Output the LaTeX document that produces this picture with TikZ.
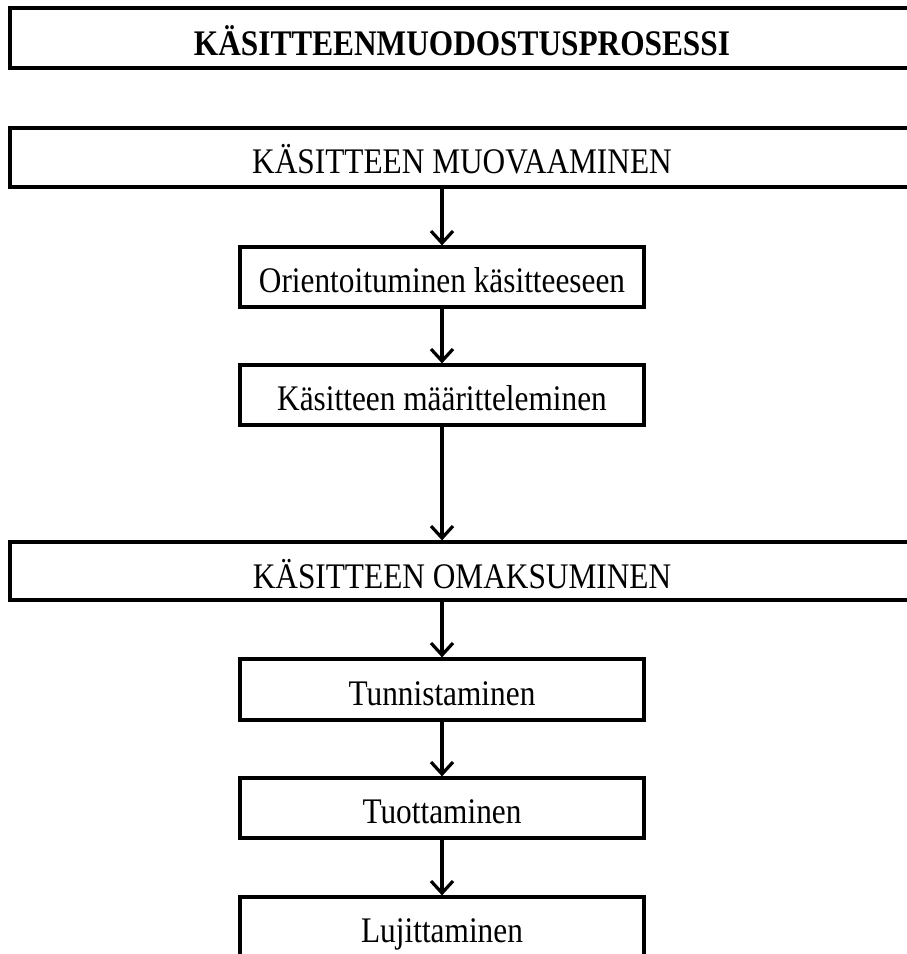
\documentclass[tikz,border=0pt]{standalone}
\usepackage{fontspec}
\setmainfont[FakeStretch=0.87]{Liberation Serif}
\usetikzlibrary{arrows.meta}

\begin{document}
\begin{tikzpicture}[x=1pt, y=-1pt, line width=3.2pt,
    widebox/.style={draw, inner sep=0pt, minimum width=904pt, font=\fontsize{36}{40}\selectfont},
    smallbox/.style={draw, inner sep=0pt, minimum width=404pt, text height=45pt, text depth=15pt, font=\fontsize{36}{40}\selectfont},
    flow/.style={-{Straight Barb[length=12pt, width=22pt]}}]
    \useasboundingbox (0,0) rectangle (906,954);

    \node [widebox, text height=47pt, text depth=13pt, font=\fontsize{36}{40}\selectfont\bfseries] (title) at (462,38) {KÄSITTEENMUODOSTUSPROSESSI};

    \node [widebox, text height=45pt, text depth=14pt] (muov) at (462,157.5) {KÄSITTEEN MUOVAAMINEN};
    \node [smallbox] (orient) at (442,277) {Orientoituminen käsitteeseen};
    \node [smallbox] (maar) at (442,395) {Käsitteen määritteleminen};

    \node [widebox, text height=46pt, text depth=12pt] (omak) at (462,571) {KÄSITTEEN OMAKSUMINEN};
    \node [smallbox, text height=46pt] (tunn) at (442,689.5) {Tunnistaminen};
    \node [smallbox] (tuot) at (442,808) {Tuottaminen};
    \node [smallbox] (luji) at (442,927) {Lujittaminen};

    \draw [flow] (orient.north |- muov.south) -- (orient.north);
    \draw [flow] (orient.south) -- (maar.north);
    \draw [flow] (maar.south) -- (maar.south |- omak.north);
    \draw [flow] (tunn.north |- omak.south) -- (tunn.north);
    \draw [flow] (tunn.south) -- (tuot.north);
    \draw [flow] (tuot.south) -- (luji.north);
\end{tikzpicture}
\end{document}
